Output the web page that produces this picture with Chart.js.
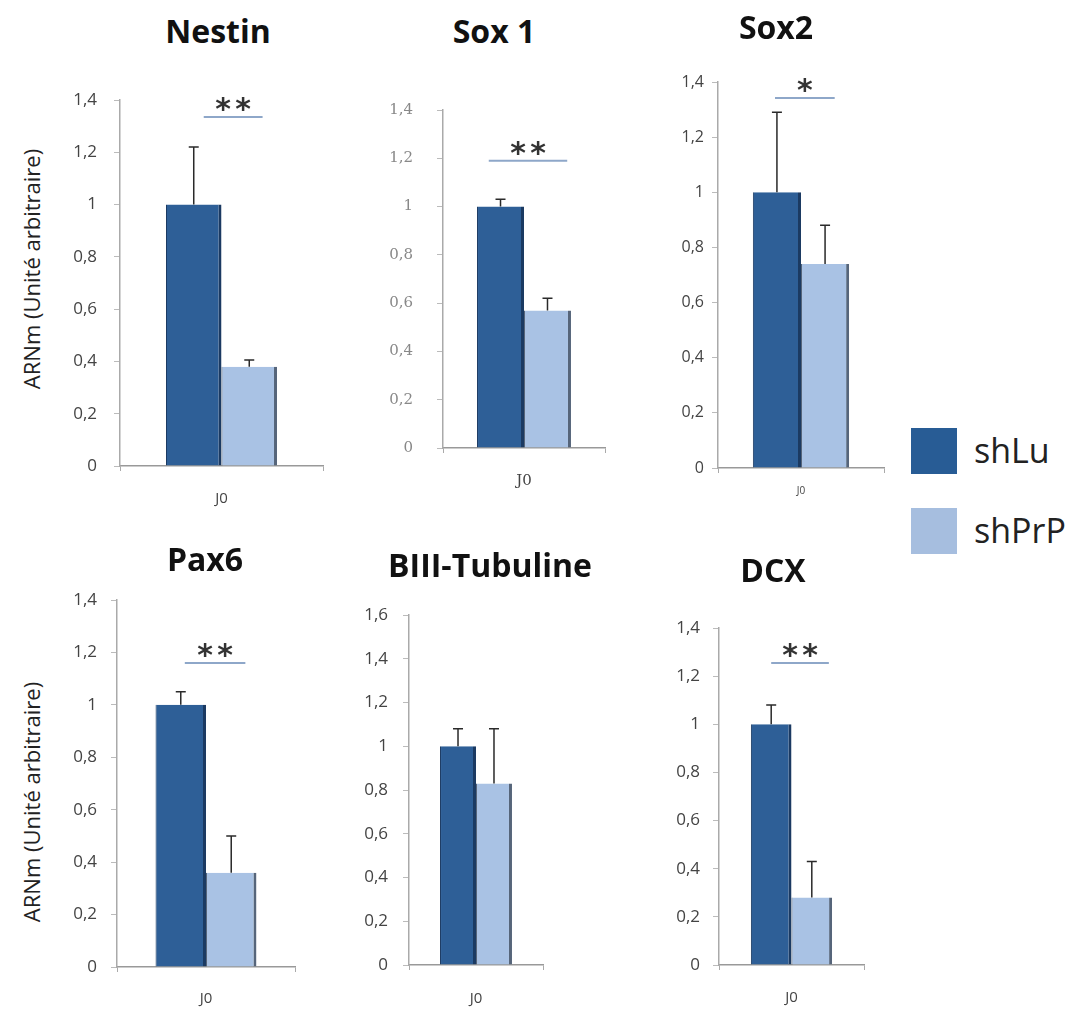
<!DOCTYPE html>
<html>
<head>
<meta charset="utf-8">
<script src="https://cdn.jsdelivr.net/npm/chart.js@4.4.1/dist/chart.umd.min.js"></script>
<style>
  body { margin: 0; background: #fff; }
  #page { position: relative; width: 1071px; height: 1009px; overflow: hidden; background: #fff; }
  canvas { position: absolute; }
  .title { position: absolute; font-family: "Open Sans", sans-serif; font-weight: 700; font-size: 32px; color: #111; transform: translate(-50%, -50%); white-space: nowrap; }
  .ylab { position: absolute; font-family: "Open Sans", sans-serif; font-size: 22px; color: #222; transform: translate(-50%, -50%) rotate(-90deg); white-space: nowrap; }
  .leg-box { position: absolute; width: 46px; height: 46px; }
  .leg-text { position: absolute; font-family: "Open Sans", sans-serif; font-size: 34px; color: #222; transform: translateY(-50%); }
</style>
</head>
<body>
<div id="page"></div>
<script>
// --- data ---
const genes = ["Nestin", "Sox 1", "Sox2", "Pax6", "BIII-Tubuline", "DCX"];
const categories = ["J0"];
const seriesNames = ["shLu", "shPrP"];
const shLuValues = [1, 1, 1, 1, 1, 1];
const shLuErrors = [0.22, 0.03, 0.29, 0.05, 0.08, 0.08];
const shPrPValues = [0.38, 0.57, 0.74, 0.36, 0.83, 0.28];
const shPrPErrors = [0.025, 0.05, 0.14, 0.14, 0.25, 0.15];
const yMaxValues = [1.4, 1.4, 1.4, 1.4, 1.6, 1.4];
const stars = ["**", "**", "*", "**", "", "**"];
const sigLevels = [1.335, 1.19, 1.342, 1.16, null, 1.255];

const seriesColors = ["#2e5f97", "#a9c2e4"];
const seriesEdges = ["#1b3a62", "#56657a"];

// layout of each small panel (pixel frame of the plot area)
const frames = [
  { axisX: 120, top: 100, zero: 466, right: 323, title: [218, 30], yw: 70, tickGap: 17, font: "Open Sans", fs: 17, tc: "#444", xfs: 15, xgap: 19, sig: [0.18, 0.24] },
  { axisX: 443, top: 110, zero: 448, right: 605, title: [494, 30], yw: 80, tickGap: 24, font: "DejaVu Serif", fs: 15, tc: "#888", xfs: 15, xgap: 19, sig: [-0.25, 0.42] },
  { axisX: 718, top: 82, zero: 468, right: 884, title: [776, 26], yw: 55, tickGap: 8, font: "Open Sans", fs: 16, tc: "#444", xfs: 10, xgap: 12, sig: [-0.04, 0.2] },
  { axisX: 117, top: 600, zero: 967, right: 295, title: [205, 558], yw: 70, tickGap: 14, font: "Open Sans", fs: 17, tc: "#444", xfs: 15, xgap: 18, sig: [0.08, 0.28] },
  { axisX: 409, top: 615, zero: 965, right: 543, title: [490, 564], yw: 70, tickGap: 15, font: "Open Sans", fs: 17, tc: "#444", xfs: 15, xgap: 20, sig: [0, 0] },
  { axisX: 719, top: 628, zero: 965, right: 864, title: [773, 569], yw: 70, tickGap: 13, font: "Open Sans", fs: 17, tc: "#444", xfs: 15, xgap: 19, sig: [0, 0.42] }
];
const barFractions = [0.547, 0.58, 0.58, 0.567, 0.537, 0.56];

const PAD_TOP = 40, X_H = 46;
const page = document.getElementById("page");

// error bars + significance bracket, positioned through the chart's own scales
const annotations = {
  id: "annotations",
  afterDatasetsDraw(chart, args, opts) {
    const ctx = chart.ctx;
    const y = chart.scales.y;
    const bars = chart.data.datasets.map((ds, i) => chart.getDatasetMeta(i).data[0]);

    ctx.save();
    ctx.strokeStyle = "#2a2a2a";
    ctx.lineWidth = 1.5;
    chart.data.datasets.forEach((ds, i) => {
      const bar = bars[i];
      const top = y.getPixelForValue(ds.data[0] + ds.errors[0]);
      ctx.beginPath();
      ctx.moveTo(bar.x, bar.y);
      ctx.lineTo(bar.x, top);
      ctx.moveTo(bar.x - 5, top);
      ctx.lineTo(bar.x + 5, top);
      ctx.stroke();
    });

    if (opts.level != null) {
      const w = bars[0].width;
      const x1 = bars[0].x + opts.span[0] * w;
      const x2 = bars[1].x + opts.span[1] * w;
      const ly = y.getPixelForValue(opts.level);
      ctx.strokeStyle = "#8ea7c9";
      ctx.lineWidth = 2;
      ctx.beginPath();
      ctx.moveTo(x1, ly);
      ctx.lineTo(x2, ly);
      ctx.stroke();

      // stars, spaced apart like the original
      ctx.fillStyle = "#333";
      ctx.font = "bold 30px 'DejaVu Sans'";
      ctx.textAlign = "center";
      ctx.textBaseline = "alphabetic";
      const chars = opts.label.split("");
      const gap = 20;
      const cx = (x1 + x2) / 2;
      chars.forEach((c, k) => {
        ctx.fillText(c, cx + (k - (chars.length - 1) / 2) * gap, ly + 2);
      });
    }
    ctx.restore();
  }
};

genes.forEach((gene, i) => {
  const f = frames[i];
  const canvas = document.createElement("canvas");
  const w = f.yw + (f.right - f.axisX) + 4;
  const h = PAD_TOP + (f.zero - f.top) + X_H;
  canvas.width = w;
  canvas.height = h;
  canvas.style.left = (f.axisX - f.yw) + "px";
  canvas.style.top = (f.top - PAD_TOP) + "px";
  canvas.style.width = w + "px";
  canvas.style.height = h + "px";
  page.appendChild(canvas);

  const values = [shLuValues[i], shPrPValues[i]];
  const errors = [shLuErrors[i], shPrPErrors[i]];

  new Chart(canvas, {
    type: "bar",
    data: {
      labels: categories,
      datasets: seriesNames.map((name, s) => ({
        label: name,
        data: [values[s]],
        errors: [errors[s]],
        backgroundColor: seriesColors[s],
        borderColor: seriesEdges[s],
        borderWidth: { left: 1, right: 3, top: 0, bottom: 0 },
        categoryPercentage: barFractions[i],
        barPercentage: 1
      }))
    },
    options: {
      responsive: false,
      animation: false,
      layout: { padding: { top: PAD_TOP, right: 4, left: 0, bottom: 0 } },
      plugins: {
        legend: { display: false },
        tooltip: { enabled: false },
        annotations: { level: sigLevels[i], label: stars[i], span: f.sig }
      },
      scales: {
        x: {
          grid: { drawOnChartArea: false, drawTicks: true, tickLength: 5, color: "#aaa" },
          border: { color: "#999", width: 1.5 },
          ticks: { padding: f.xgap, color: "#444", font: { family: f.font, size: f.xfs } },
          afterFit: s => { s.height = X_H; }
        },
        y: {
          min: 0,
          max: yMaxValues[i],
          grid: { drawOnChartArea: false, drawTicks: true, tickLength: 6, color: "#bbb" },
          border: { color: "#aaa", width: 1.5 },
          ticks: {
            stepSize: 0.2,
            padding: f.tickGap,
            color: f.tc,
            font: { family: f.font, size: f.fs },
            callback: v => String(Math.round(v * 10) / 10).replace(".", ",")
          },
          afterFit: s => { s.width = f.yw; }
        }
      }
    },
    plugins: [annotations]
  });

  const t = document.createElement("div");
  t.className = "title";
  t.textContent = gene;
  t.style.left = f.title[0] + "px";
  t.style.top = f.title[1] + "px";
  page.appendChild(t);
});

// y axis titles on the left column
[[31, 269], [31, 802]].forEach(([x, y]) => {
  const d = document.createElement("div");
  d.className = "ylab";
  d.textContent = "ARNm (Unité arbitraire)";
  d.style.left = x + "px";
  d.style.top = y + "px";
  page.appendChild(d);
});

// legend
[[428, 450], [508, 530]].forEach(([boxTop, textY], s) => {
  const b = document.createElement("div");
  b.className = "leg-box";
  b.style.left = "911px";
  b.style.top = boxTop + "px";
  b.style.background = s === 0 ? "#285c95" : "#a6bedf";
  page.appendChild(b);
  const t = document.createElement("div");
  t.className = "leg-text";
  t.textContent = seriesNames[s];
  t.style.left = "974px";
  t.style.top = textY + "px";
  page.appendChild(t);
});
</script>
</body>
</html>
